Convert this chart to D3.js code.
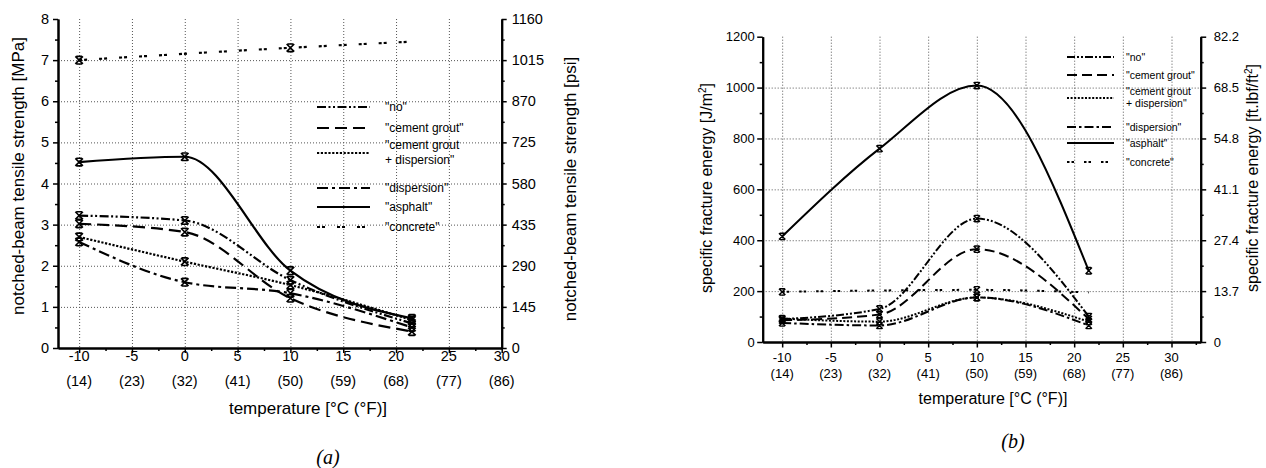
<!DOCTYPE html>
<html><head><meta charset="utf-8">
<script src="https://cdn.jsdelivr.net/npm/d3@7"></script>
<style>
html,body{margin:0;padding:0;background:#fff;}
svg{display:block;}
</style></head><body>
<svg id="chart" width="1266" height="468"></svg>
<script>
// ---------- shared data ----------
const tempsC = [-10, 0, 10, 21.5];
const concreteTemps = [-10, 10, 21.5];
const concreteMarked = [true, true, false];
const xTickValues = [-10, -5, 0, 5, 10, 15, 20, 25, 30];
const xTickFahrenheit = ["(14)", "(23)", "(32)", "(41)", "(50)", "(59)", "(68)", "(77)", "(86)"];
const seriesLabels = [['"no"'], ['"cement grout"'], ['"cement grout', '+ dispersion"'], ['"dispersion"'], ['"asphalt"'], ['"concrete"']];

// ---------- (a) notched-beam tensile strength [MPa] ----------
const aNo = [3.22, 3.10, 1.65, 0.60];
const aCementGrout = [3.02, 2.82, 1.21, 0.40];
const aCementGroutDispersion = [2.70, 2.10, 1.53, 0.68];
const aDispersion = [2.58, 1.60, 1.33, 0.50];
const aAsphalt = [4.52, 4.65, 1.88, 0.72];
const aConcrete = [7.00, 7.30, 7.45];
const aYTicks = [0, 1, 2, 3, 4, 5, 6, 7, 8];
const aPsiTicks = [0, 145, 290, 435, 580, 725, 870, 1015, 1160];

// ---------- (b) specific fracture energy [J/m2] ----------
const bNo = [90, 130, 485, 100];
const bCementGrout = [85, 108, 365, 90];
const bCementGroutDispersion = [92, 80, 175, 80];
const bDispersion = [75, 65, 175, 65];
const bAsphalt = [415, 760, 1008, 280];
const bConcrete = [197, 205, 195];
const bYTicks = [0, 200, 400, 600, 800, 1000, 1200];
const bFtTicks = [0, 13.7, 27.4, 41.1, 54.8, 68.5, 82.2];

const FONT = "'Liberation Sans', Arial, Helvetica, sans-serif";
const svg = d3.select("#chart");

function markerPath(h) {
  const b = h * 0.75;
  return `M${-h},${-h}L${h},${h}M${h},${-h}L${-h},${h}M${-b},${-h}L${b},${-h}M${-b},${h}L${b},${h}`;
}
function mids(arr) {
  const out = [];
  for (let i = 0; i < arr.length - 1; i++) out.push((arr[i] + arr[i + 1]) / 2);
  return out;
}

function drawPanel(p) {
  const g = svg.append("g");
  const x = d3.scaleLinear().domain(p.xDomain).range([p.left, p.right]);
  const y = d3.scaleLinear().domain(p.yDomain).range([p.bottom, p.top]);
  const y2 = d3.scaleLinear().domain(p.y2Domain).range([p.bottom, p.top]);

  // grid
  const grid = g.append("g").attr("stroke", "#555").attr("stroke-width", 1).attr("stroke-dasharray", "1,2");
  grid.selectAll("line.v").data(xTickValues.filter(v => v > p.xDomain[0] && v < p.xDomain[1]))
    .join("line").attr("class", "v")
    .attr("x1", d => x(d) + 0.5).attr("x2", d => x(d) + 0.5).attr("y1", p.top).attr("y2", p.bottom);
  grid.selectAll("line.h").data(p.yTicks.filter(v => v > p.yDomain[0] && v < p.yDomain[1]))
    .join("line").attr("class", "h")
    .attr("y1", d => y(d) + 0.5).attr("y2", d => y(d) + 0.5).attr("x1", p.left).attr("x2", p.right);

  // axes
  const minorX = xTickValues.map(v => v + 2.5).filter(v => v > p.xDomain[0] && v < p.xDomain[1]);
  const minorY = mids(p.yTicks);
  const minorY2 = mids(p.y2Ticks);

  function styleAxis(sel) {
    sel.selectAll("path.domain").attr("stroke", "#000").attr("stroke-width", 2);
    sel.selectAll(".tick line").attr("stroke", "#000").attr("stroke-width", 1.5);
    sel.selectAll(".tick text").remove();
  }
  const bx = g.append("g").attr("transform", `translate(0,${p.bottom})`);
  bx.append("g").call(d3.axisBottom(x).tickValues(minorX).tickSize(p.minorTick).tickSizeOuter(0)).call(styleAxis);
  bx.append("g").call(d3.axisBottom(x).tickValues(xTickValues).tickSize(p.majorTick).tickSizeOuter(0)).call(styleAxis);

  const ly = g.append("g").attr("transform", `translate(${p.left},0)`);
  ly.append("g").call(d3.axisLeft(y).tickValues(minorY).tickSize(p.minorTick).tickSizeOuter(0)).call(styleAxis);
  ly.append("g").call(d3.axisLeft(y).tickValues(p.yTicks).tickSize(p.majorTick).tickSizeOuter(0)).call(styleAxis);

  const ry = g.append("g").attr("transform", `translate(${p.right},0)`);
  ry.append("g").call(d3.axisRight(y2).tickValues(minorY2).tickSize(p.minorTick).tickSizeOuter(0)).call(styleAxis);
  ry.append("g").call(d3.axisRight(y2).tickValues(p.y2Ticks).tickSize(p.majorTick).tickSizeOuter(0)).call(styleAxis);

  // tick labels
  const tl = g.append("g").attr("font-family", FONT).attr("font-size", p.tickFont).attr("fill", "#000");
  tl.selectAll("text.yl").data(p.yTicks).join("text").attr("class", "yl")
    .attr("x", p.left - p.yLabelGap).attr("y", d => y(d)).attr("dy", "0.35em").attr("text-anchor", "end")
    .text(d => String(d));
  tl.selectAll("text.yr").data(p.y2Ticks).join("text").attr("class", "yr")
    .attr("x", p.right + p.yLabelGap2).attr("y", d => y2(d)).attr("dy", "0.35em").attr("text-anchor", "start")
    .text(p.y2Format);
  tl.selectAll("text.x1").data(xTickValues).join("text").attr("class", "x1")
    .attr("x", d => x(d)).attr("y", p.xl1).attr("dy", "0.35em").attr("text-anchor", "middle")
    .text(d => String(d));
  tl.selectAll("text.x2").data(xTickValues).join("text").attr("class", "x2")
    .attr("x", d => x(d)).attr("y", p.xl2).attr("dy", "0.35em").attr("text-anchor", "middle")
    .text((d, i) => xTickFahrenheit[i]);

  // titles
  const tt = g.append("g").attr("font-family", FONT).attr("font-size", p.titleFont).attr("fill", "#000").attr("text-anchor", "middle");
  tt.append("text").attr("x", p.xTitle[0]).attr("y", p.xTitle[1]).attr("dy", "0.35em").text("temperature [°C (°F)]");
  tt.append("text").attr("transform", `translate(${p.yTitle[0]},${p.yTitle[1]}) rotate(-90)`).attr("dy", "0.35em").html(p.yTitleText);
  tt.append("text").attr("transform", `translate(${p.y2Title[0]},${p.y2Title[1]}) rotate(-90)`).attr("dy", "0.35em").html(p.y2TitleText);

  // series
  const line = d3.line().x(d => x(d[0])).y(d => y(d[1])).curve(p.curve);
  const sg = g.append("g");
  p.series.forEach((s, i) => {
    const pts = d3.zip(s.xs, s.ys);
    sg.append("path").datum(pts).attr("d", line).attr("fill", "none").attr("stroke", "#000")
      .attr("stroke-width", p.lw).attr("stroke-dasharray", p.styles[i]);
  });
  p.series.forEach((s) => {
    const pts = d3.zip(s.xs, s.ys).filter((d, j) => !s.marked || s.marked[j]);
    sg.selectAll(null).data(pts).join("path")
      .attr("transform", d => `translate(${x(d[0])},${y(d[1])})`)
      .attr("d", markerPath(p.markerSize)).attr("fill", "none").attr("stroke", "#000").attr("stroke-width", p.markerStroke);
  });

  // legend
  const lg = g.append("g").attr("font-family", FONT).attr("font-size", p.legendFont).attr("fill", "#000");
  seriesLabels.forEach((lab, i) => {
    const yy = p.legendY[i];
    lg.append("line").attr("x1", p.legendX[0]).attr("x2", p.legendX[1]).attr("y1", yy).attr("y2", yy)
      .attr("stroke", "#000").attr("stroke-width", p.lw).attr("stroke-dasharray", p.styles[i]);
    lab.forEach((t, k) => {
      lg.append("text").attr("x", p.legendX[2])
        .attr("y", yy + (lab.length > 1 ? (k - 0.5) * p.legendLine - 1 : 0))
        .attr("dy", "0.35em").text(t);
    });
  });

  // caption
  svg.append("text").attr("x", p.caption[0]).attr("y", p.caption[1]).attr("dy", "0.35em")
    .attr("text-anchor", "middle").attr("font-family", "'Liberation Serif', 'DejaVu Serif', serif")
    .attr("font-style", "italic").attr("font-size", 20).text(p.captionText);
}

drawPanel({
  left: 58, right: 501.7, top: 19, bottom: 348,
  xDomain: [-12, 30], yDomain: [0, 8], y2Domain: [0, 1160],
  yTicks: aYTicks, y2Ticks: aPsiTicks, y2Format: d => String(d),
  majorTick: 5, minorTick: 3, tickFont: 14.5, yLabelGap: 9, yLabelGap2: 10,
  xl1: 356, xl2: 381,
  titleFont: 17, xTitle: [308, 408], yTitle: [18, 176], y2Title: [570, 189],
  yTitleText: "notched-beam tensile strength [MPa]",
  y2TitleText: "notched-beam tensile strength [psi]",
  curve: d3.curveMonotoneX, lw: 2.2, markerSize: 3.8, markerStroke: 1.6,
  styles: ["9,2.5,2,2.5,2,2.5", "12,6", "2.2,1.6", "11,4,3,4", null, "3,2,3,12"],
  series: [
    { xs: tempsC, ys: aNo },
    { xs: tempsC, ys: aCementGrout },
    { xs: tempsC, ys: aCementGroutDispersion },
    { xs: tempsC, ys: aDispersion },
    { xs: tempsC, ys: aAsphalt },
    { xs: concreteTemps, ys: aConcrete, marked: concreteMarked }
  ],
  legendFont: 12, legendX: [317, 370, 385], legendY: [107, 128, 153, 188, 207, 227], legendLine: 15,
  caption: [328, 457], captionText: "(a)"
});

drawPanel({
  left: 762.7, right: 1200.7, top: 36.7, bottom: 342,
  xDomain: [-12, 33], yDomain: [0, 1200], y2Domain: [0, 82.2],
  yTicks: bYTicks, y2Ticks: bFtTicks, y2Format: d => d === 0 ? "0" : d.toFixed(1),
  majorTick: 5.5, minorTick: 3, tickFont: 13, yLabelGap: 8, yLabelGap2: 13,
  xl1: 357, xl2: 373,
  titleFont: 16, xTitle: [993, 398], yTitle: [706, 188], y2Title: [1252, 178],
  yTitleText: "specific fracture energy [J/m<tspan font-size='10' dy='-6'>2</tspan><tspan dy='6'>]</tspan>",
  y2TitleText: "specific fracture energy [ft.lbf/ft<tspan font-size='10' dy='-6'>2</tspan><tspan dy='6'>]</tspan>",
  curve: d3.curveMonotoneX, lw: 2, markerSize: 3.2, markerStroke: 1.4,
  styles: ["8,2,2,2,2,2", "10,5", "2,1.6", "9,3,2.5,3", null, "2.5,2,2.5,10"],
  series: [
    { xs: tempsC, ys: bNo },
    { xs: tempsC, ys: bCementGrout },
    { xs: tempsC, ys: bCementGroutDispersion },
    { xs: tempsC, ys: bDispersion },
    { xs: tempsC, ys: bAsphalt },
    { xs: concreteTemps, ys: bConcrete, marked: concreteMarked }
  ],
  legendFont: 10.5, legendX: [1067, 1114, 1126], legendY: [57, 75, 98, 127, 143, 162], legendLine: 12,
  caption: [1013, 441], captionText: "(b)"
});
</script>
</body></html>
